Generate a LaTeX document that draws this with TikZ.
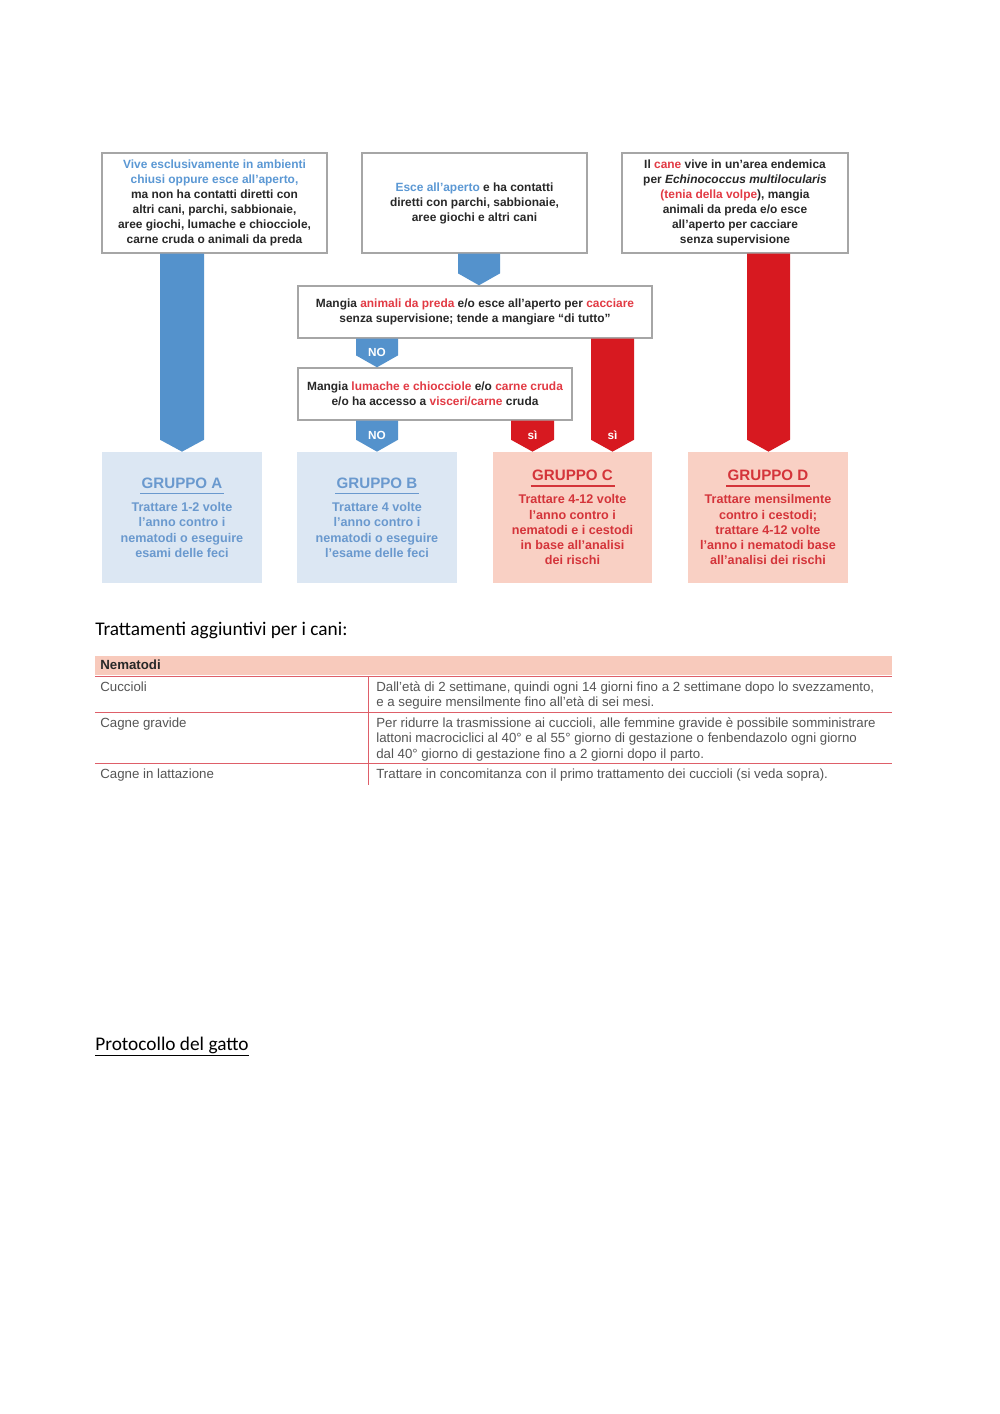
\documentclass[tikz,border=0pt]{standalone}
\usepackage{fontspec}
\setmainfont{Liberation Sans}
\newfontfamily\bodyfont{Carlito}
\usetikzlibrary{calc}

\definecolor{tblue}{RGB}{91,152,212}
\definecolor{ablue}{RGB}{84,146,204}
\definecolor{tred}{RGB}{226,58,68}
\definecolor{ared}{RGB}{215,25,32}
\definecolor{grpAfill}{RGB}{220,231,243}
\definecolor{grpAtext}{RGB}{106,153,206}
\definecolor{grpCfill}{RGB}{249,208,196}
\definecolor{grpCtext}{RGB}{212,52,58}
\definecolor{txtdark}{RGB}{40,40,40}
\definecolor{boxgray}{RGB}{166,166,166}
\definecolor{hdrfill}{RGB}{248,202,188}
\definecolor{tline}{RGB}{222,95,105}
\definecolor{tabtext}{RGB}{85,85,85}

\tikzset{
  qbox/.style={draw=boxgray, line width=0.8pt, fill=white, align=center, inner sep=0pt,
    text=txtdark, font=\fontsize{7.1}{8.9}\selectfont\bfseries},
  grpblue/.style={fill=grpAfill, text=grpAtext, align=center, inner sep=0pt,
    minimum width=95.2pt, minimum height=78pt, font=\fontsize{7.5}{9.1}\selectfont\bfseries},
  grpred/.style={grpblue, fill=grpCfill, text=grpCtext},
  lbl/.style={text=white, font=\fontsize{7}{8}\selectfont\bfseries, inner sep=0pt},
  tabtxt/.style={text=tabtext, align=left, inner sep=0pt, font=\fontsize{7.9}{9.3}\selectfont},
  tline/.style={draw=tline, line width=0.6pt}
}

% block arrow with a pointed end: colour, left x, right x, from, to
\newcommand{\chev}[5]{%
  \fill[#1] let \p1=(#2,0 |- #4), \p2=(#3,0 |- #5) in
    (\x1,\y1) -- (\x2,\y1) -- (\x2,\y2+7.1pt) -- ({(\x1+\x2)/2},\y2) -- (\x1,\y2+7.1pt) -- cycle;}
\newcommand{\grptitle}[1]{{\fontsize{9}{10}\selectfont #1}\\[-5.5pt]\rule{50pt}{0.9pt}\\[1.2pt]}

\begin{document}
\begin{tikzpicture}[x=0.5953pt,y=-0.5953pt]
\useasboundingbox[fill=white] (0,0) rectangle (1000,1414);

% questions
\node[qbox, minimum width=133.9pt, minimum height=59.5pt] (q1) at (214.5,203)
  {\textcolor{tblue}{Vive esclusivamente in ambienti}\\ \textcolor{tblue}{chiusi oppure esce all’aperto,}\\
   ma non ha contatti diretti con\\ altri cani, parchi, sabbionaie,\\ aree giochi, lumache e chiocciole,\\
   carne cruda o animali da preda};
\node[qbox, minimum width=133.9pt, minimum height=59.5pt] (q2) at (474.5,203)
  {\textcolor{tblue}{Esce all’aperto} e ha contatti\\ diretti con parchi, sabbionaie,\\ aree giochi e altri cani};
\node[qbox, minimum width=134.5pt, minimum height=59.5pt] (q3) at (735,203)
  {Il \textcolor{tred}{cane} vive in un’area endemica\\ per \textit{Echinococcus multilocularis}\\
   \textcolor{tred}{(tenia della volpe}), mangia\\ animali da preda e/o esce\\ all’aperto per cacciare\\ senza supervisione};
\node[qbox, minimum width=210.7pt, minimum height=31pt] (q4) at (475,312)
  {Mangia \textcolor{tred}{animali da preda} e/o esce all’aperto per \textcolor{tred}{cacciare}\\
   senza supervisione; tende a mangiare “di tutto”};
\node[qbox, minimum width=163.1pt, minimum height=31pt] (q5) at (435,394)
  {Mangia \textcolor{tred}{lumache e chiocciole} e/o \textcolor{tred}{carne cruda}\\
   e/o ha accesso a \textcolor{tred}{visceri/carne} cruda};

% groups
\node[grpblue] (gA) at (182,517.5)
  {\grptitle{GRUPPO A} Trattare 1-2 volte\\ l’anno contro i\\ nematodi o eseguire\\ esami delle feci};
\node[grpblue] (gB) at (377,517.5)
  {\grptitle{GRUPPO B} Trattare 4 volte\\ l’anno contro i\\ nematodi o eseguire\\ l’esame delle feci};
\node[grpred] (gC) at (572.5,517.5)
  {\grptitle{GRUPPO C} Trattare 4-12 volte\\ l’anno contro i\\ nematodi e i cestodi\\ in base all’analisi\\ dei rischi};
\node[grpred] (gD) at (768,517.5)
  {\grptitle{GRUPPO D} Trattare mensilmente\\ contro i cestodi;\\ trattare 4-12 volte\\ l’anno i nematodi base\\ all’analisi dei rischi};

% arrows
\chev{ablue}{160}{204}{q1.south}{gA.north}
\chev{ablue}{458}{500}{q2.south}{q4.north}
\chev{ared}{747}{790}{q3.south}{gD.north}
\chev{ared}{591}{634}{q4.south}{gC.north}
\chev{ablue}{356}{398}{q4.south}{q5.north}
\chev{ablue}{356}{398}{q5.south}{gB.north}
\chev{ared}{511}{554}{q5.south}{gC.north}
\node[lbl] (no1) at (377,352) {NO};
\node[lbl] (no2) at (377,435) {NO};
\node[lbl] (si1) at (532.5,435) {sì};
\node[lbl] (si2) at (612.5,435) {sì};

% table
\node[anchor=base west, inner sep=0pt, font=\bodyfont\fontsize{11.5}{13}\selectfont] (tit1) at (95,635)
  {Trattamenti aggiuntivi per i cani:};
\fill[hdrfill] (95,656) rectangle (892,675);
\node[tabtxt, anchor=base west, text=txtdark, font=\fontsize{7.9}{9.3}\selectfont\bfseries] (hdr) at (100,669.5) {Nematodi};
\foreach \y in {676,712,763}
  \draw[tline] (95,\y) -- (892,\y);
\draw[tline] (368,676) -- (368,785);
\node[tabtxt, anchor=base west] (r1) at (100,691) {Cuccioli};
\node[tabtxt, anchor=base west] (r2) at (100,727) {Cagne gravide};
\node[tabtxt, anchor=base west] (r3) at (100,778) {Cagne in lattazione};
\node[tabtxt, anchor=north west] (d1) at (376,681)
  {Dall’età di 2 settimane, quindi ogni 14 giorni fino a 2 settimane dopo lo svezzamento,\\
   e a seguire mensilmente fino all’età di sei mesi.};
\node[tabtxt, anchor=north west] (d2) at (376,717)
  {Per ridurre la trasmissione ai cuccioli, alle femmine gravide è possibile somministrare\\
   lattoni macrociclici al 40° e al 55° giorno di gestazione o fenbendazolo ogni giorno\\
   dal 40° giorno di gestazione fino a 2 giorni dopo il parto.};
\node[tabtxt, anchor=base west] (d3) at (376,778)
  {Trattare in concomitanza con il primo trattamento dei cuccioli (si veda sopra).};

\node[anchor=base west, inner sep=0pt, font=\bodyfont\fontsize{11.5}{13}\selectfont] (tit2) at (95,1050)
  {\underline{Protocollo del gatto}};
\end{tikzpicture}
\end{document}
